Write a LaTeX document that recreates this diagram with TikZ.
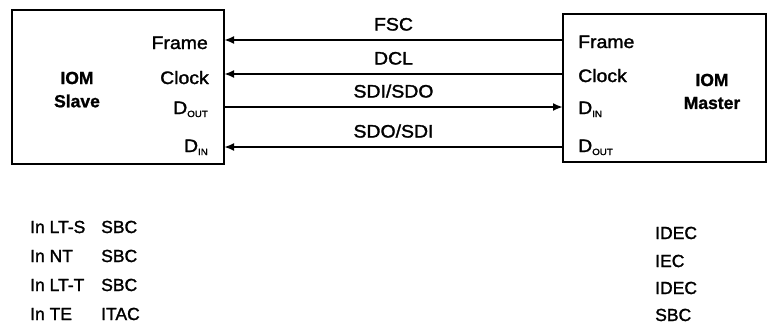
\documentclass[tikz,border=0pt]{standalone}
\usepackage{fontspec}
\setmainfont{Liberation Sans}
\newfontfamily\lblfont[FakeBold=1.6,FakeStretch=1.08]{Liberation Sans}
\newfontfamily\tblfont[FakeBold=1.6]{Liberation Sans}
\newfontfamily\ttlfont[UprightFont={* Bold},FakeBold=1.2]{Liberation Sans}
\usetikzlibrary{arrows.meta}
\newcommand{\subtxt}[1]{\raisebox{-3pt}{\fontsize{9}{10}\selectfont #1}}
\begin{document}
\begin{tikzpicture}[x=1pt,y=-1pt,
  box/.style={draw,line width=1.6pt},
  sig/.style={line width=2.6pt,-{Latex[length=10pt,width=8pt]}},
  lbl/.style={font=\lblfont\fontsize{18}{20}\selectfont,inner sep=0pt},
  port/.style={lbl,anchor=base west},
  rport/.style={lbl,anchor=base east},
  title/.style={inner sep=0pt,font=\ttlfont\fontsize{17.5}{19}\selectfont},
  tbl/.style={inner sep=0pt,font=\tblfont\fontsize{17.5}{19}\selectfont,anchor=base west}]
\useasboundingbox (0,0) rectangle (767,327);
% device boxes
\draw[box] (12,10) rectangle (224,164);
\draw[box] (563,14) rectangle (766,162);
\node[title] (slave1) at (77,78) {IOM};
\node[title] (slave2) at (77,101) {Slave};
\node[title] (master1) at (712,80) {IOM};
\node[title] (master2) at (712,103) {Master};
% slave ports
\node[rport] (sframe) at (208,49) {Frame};
\node[rport] (sclock) at (209,84) {Clock};
\node[rport] (sdout) at (208,114) {D\subtxt{OUT}};
\node[rport] (sdin) at (208,152) {D\subtxt{IN}};
% master ports
\node[port] (mframe) at (578,48) {Frame};
\node[port] (mclock) at (578,82) {Clock};
\node[port] (mdin) at (578,114) {D\subtxt{IN}};
\node[port] (mdout) at (578,152) {D\subtxt{OUT}};
% signal anchor points
\coordinate (sF) at (224,40);  \coordinate (mF) at (563,40);
\coordinate (sC) at (224,74);  \coordinate (mC) at (563,74);
\coordinate (sD) at (224,107); \coordinate (mD) at (563,107);
\coordinate (sI) at (224,147); \coordinate (mI) at (563,147);
\draw[sig] (mF) -- node[lbl,above=8pt] {FSC} (sF);
\draw[sig] (mC) -- node[lbl,above=8pt] {DCL} (sC);
\draw[sig] (sD) -- node[lbl,above=8pt] {SDI/SDO} (mD);
\draw[sig] (mI) -- node[lbl,above=8pt] {SDO/SDI} (sI);
% applications
\node[tbl] (a1) at (30,233) {In LT-S};
\node[tbl] (a2) at (30,262) {In NT};
\node[tbl] (a3) at (30,291) {In LT-T};
\node[tbl] (a4) at (30,320) {In TE};
\node[tbl] (b1) at (101,233) {SBC};
\node[tbl] (b2) at (101,262) {SBC};
\node[tbl] (b3) at (101,291) {SBC};
\node[tbl] (b4) at (101,320) {ITAC};
\node[tbl] (c1) at (655,239) {IDEC};
\node[tbl] (c2) at (655,267) {IEC};
\node[tbl] (c3) at (655,294) {IDEC};
\node[tbl] (c4) at (655,321) {SBC};
\end{tikzpicture}
\end{document}
